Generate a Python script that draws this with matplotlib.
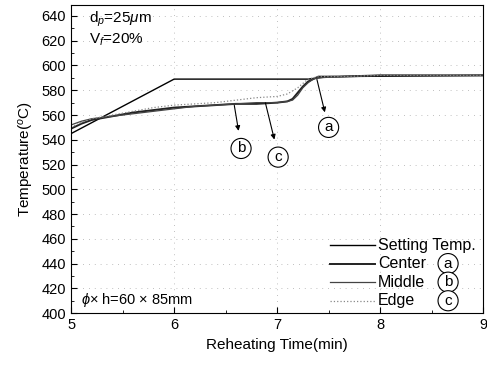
import matplotlib
matplotlib.use("Agg")
import matplotlib.pyplot as plt
from matplotlib.ticker import MultipleLocator

plt.rcParams['font.family'] = ['Liberation Sans', 'DejaVu Sans']
plt.rcParams['mathtext.fontset'] = 'custom'
plt.rcParams['mathtext.rm'] = 'Liberation Sans'
plt.rcParams['mathtext.it'] = 'Liberation Sans:italic'

# Data
t_set = [5.0, 6.0, 7.3, 7.5, 9.0]
T_set = [545, 589, 589, 591, 592]

t_center = [5.0, 5.1, 5.2, 5.4, 5.6, 5.8, 6.0, 6.2, 6.4, 6.6, 6.8, 7.0, 7.1, 7.15, 7.2, 7.25, 7.3, 7.35, 7.4, 7.6, 8.0, 9.0]
T_center = [549, 553, 556, 559, 562, 564, 566, 567, 568, 569, 569, 570, 571, 573, 578, 583, 587, 589, 591, 591, 592, 592]

t_middle = [5.0, 5.1, 5.2, 5.4, 5.6, 5.8, 6.0, 6.2, 6.4, 6.6, 6.8, 7.0, 7.1, 7.15, 7.2, 7.25, 7.3, 7.35, 7.4, 7.6, 8.0, 9.0]
T_middle = [552, 555, 557, 559, 561, 563, 565, 567, 568, 569, 570, 570, 571, 572, 576, 582, 586, 589, 590, 591, 592, 592]

t_edge = [5.0, 5.1, 5.2, 5.4, 5.6, 5.8, 6.0, 6.2, 6.4, 6.6, 6.8, 7.0, 7.1, 7.2, 7.3, 7.4, 7.6, 8.0, 9.0]
T_edge = [550, 554, 557, 560, 563, 566, 568, 569, 570, 572, 574, 575, 577, 582, 589, 591, 591, 592, 592]

legend_labels = ["Setting Temp.", "Center", "Middle", "Edge"]
marks = ["a", "b", "c"]

fig = plt.figure(figsize=(4.87, 3.71), dpi=100)
ax = fig.add_axes([0.146, 0.156, 0.846, 0.831])

ax.plot(t_set, T_set, color="black", lw=1.0)
ax.plot(t_center, T_center, color="#222222", lw=1.4)
ax.plot(t_middle, T_middle, color="#444444", lw=0.9)
ax.plot(t_edge, T_edge, color="#888888", lw=0.9, ls=":")

ax.set_xlim(5, 9)
ax.set_ylim(400, 649)
ax.xaxis.set_major_locator(MultipleLocator(1))
ax.yaxis.set_major_locator(MultipleLocator(20))
ax.yaxis.set_minor_locator(MultipleLocator(10))
ax.xaxis.set_minor_locator(MultipleLocator(0.5))
ax.tick_params(direction="in", which="both", labelsize=10.5)
ax.tick_params(which="major", length=4)
ax.tick_params(which="minor", length=2)
ax.grid(True, which="major", ls=(0, (1, 6)), color="#aaaaaa", lw=0.6)

ax.set_xlabel("Reheating Time(min)", fontsize=11)
ax.set_ylabel("Temperature($^{o}$C)", fontsize=11)

ax.text(5.17, 637, r"d$_p$=25$\mu$m", fontsize=11, va="center")
ax.text(5.17, 621, r"V$_f$=20%", fontsize=11, va="center")
ax.text(5.1, 411, r"$\phi$$\times$ h=60 $\times$ 85mm", fontsize=10.5, va="center")

circ = dict(boxstyle="circle,pad=0.2", fc="white", ec="black", lw=0.8)
arrow = dict(arrowstyle="-|>", color="black", lw=0.8, mutation_scale=7)
ax.annotate("", xy=(7.47, 560), xytext=(7.38, 591), arrowprops=arrow)
ax.text(7.5, 550, "a", fontsize=11, ha="center", va="center", bbox=circ)
ax.annotate("", xy=(6.63, 545), xytext=(6.58, 570), arrowprops=arrow)
ax.text(6.65, 533, "b", fontsize=11, ha="center", va="center", bbox=circ)
ax.annotate("", xy=(6.98, 538), xytext=(6.88, 572), arrowprops=arrow)
ax.text(7.01, 526, "c", fontsize=11, ha="center", va="center", bbox=circ)

# Legend (manual)
styles = [dict(color="black", lw=1.0), dict(color="#222222", lw=1.4),
          dict(color="#444444", lw=0.9), dict(color="#888888", lw=0.9, ls=":")]
ys = [455, 440, 425, 410]
for lab, st, yy, k in zip(legend_labels, styles, ys, [None] + marks):
    ax.plot([7.51, 7.95], [yy, yy], **st)
    ax.text(7.98, yy, lab, fontsize=11.5, va="center")
    if k is not None:
        ax.text(8.66, yy, k, fontsize=11, ha="center", va="center", bbox=circ)

fig.savefig("out.png", dpi=100)
